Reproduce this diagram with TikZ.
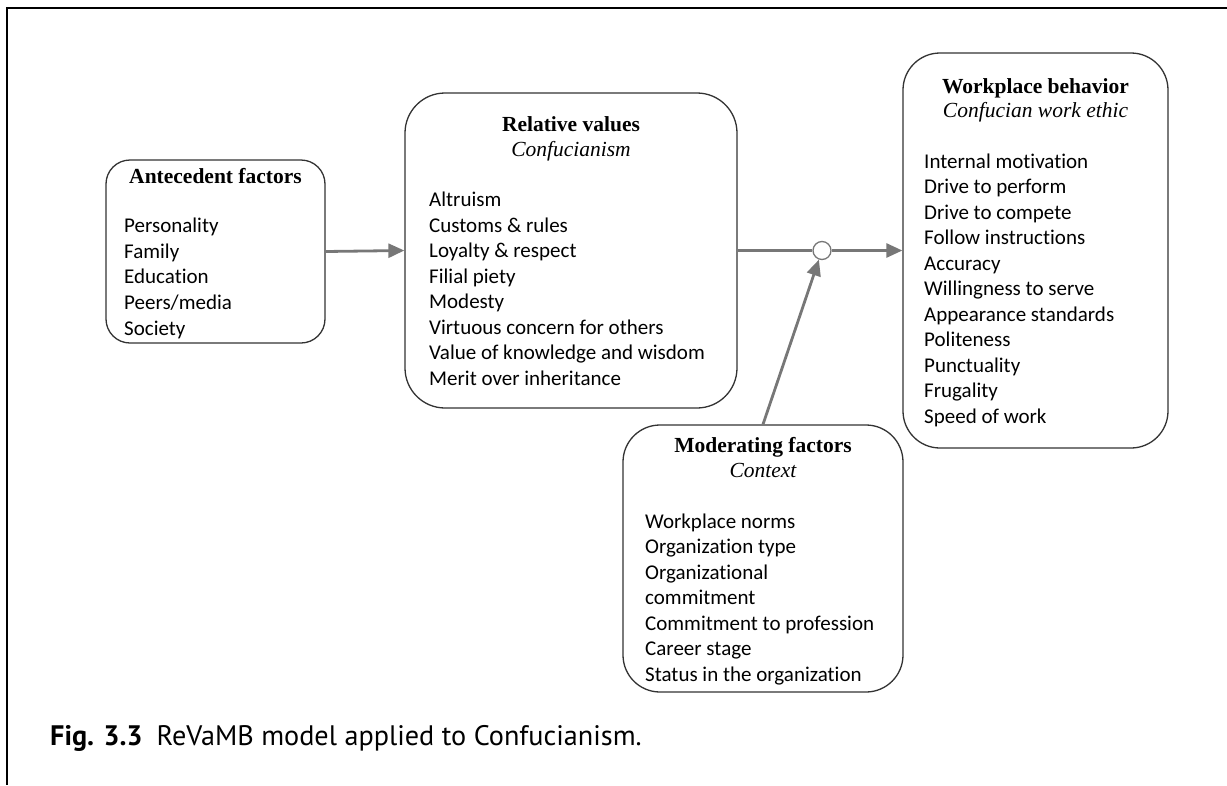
\documentclass[tikz,border=0pt]{standalone}
\usepackage{fontspec}
\setmainfont{Carlito}[RawFeature=-liga]
\newfontfamily\titlefont{Liberation Serif}
\newfontfamily\capfont{PT Sans}
\usetikzlibrary{arrows.meta}
\definecolor{boxc}{HTML}{333333}
\definecolor{arrc}{HTML}{777777}
\tikzset{
  box/.style={draw=boxc, line width=1.3pt, inner sep=0pt},
  ttl/.style={font=\titlefont\bfseries\fontsize{21.5}{24}\selectfont, anchor=base, inner sep=0pt},
  sub/.style={font=\titlefont\itshape\fontsize{21.5}{24}\selectfont, anchor=base, inner sep=0pt},
  item/.style={font=\fontsize{21}{25.5}\selectfont, anchor=base west, inner sep=0pt},
  conn/.style={draw=arrc, line width=2.8pt},
  arr/.style={conn, -{Triangle[length=16pt,width=14pt]}},
}
\begin{document}
\begin{tikzpicture}[x=1pt,y=-1pt]
\useasboundingbox (0,0) rectangle (1227,785);
% frame
\draw[line width=2pt] (1227,7.5) -- (7,7.5) -- (7,785);
% boxes
\node[box, rounded corners=24pt, minimum width=219pt, minimum height=183pt] (ant) at (215.5,251.5) {};
\node[box, rounded corners=40pt, minimum width=332pt, minimum height=315pt] (rel) at (571,250.5) {};
\node[box, rounded corners=37pt, minimum width=265pt, minimum height=395pt] (work) at (1035.5,250.5) {};
\node[box, rounded corners=37pt, minimum width=280pt, minimum height=267pt] (mod) at (763,558.5) {};
% titles
\node[ttl] (antT) at (215.5,183) {Antecedent factors};
\node[ttl] (relT) at (571,131) {Relative values};
\node[sub] (relS) at (571,156) {Confucianism};
\node[ttl] (workT) at (1035.5,93) {Workplace behavior};
\node[sub] (workS) at (1035.5,117.5) {Confucian work ethic};
\node[ttl] (modT) at (763,452) {Moderating factors};
\node[sub] (modS) at (763,477) {Context};
% items
\foreach \t [count=\i from 0] in {Personality,Family,Education,Peers/media,Society}
  \node[item] (antI\i) at (124,232.7+25.6*\i) {\t};
\foreach \t [count=\i from 0] in {Altruism,Customs \& rules,Loyalty \& respect,Filial piety,Modesty,Virtuous concern for others,Value of knowledge and wisdom,Merit over inheritance}
  \node[item] (relI\i) at (429,206.7+25.5*\i) {\t};
\foreach \t [count=\i from 0] in {Internal motivation,Drive to perform,Drive to compete,Follow instructions,Accuracy,Willingness to serve,Appearance standards,Politeness,Punctuality,Frugality,Speed of work}
  \node[item] (workI\i) at (924,168+25.5*\i) {\t};
\foreach \t [count=\i from 0] in {Workplace norms,Organization type,Organizational,commitment,Commitment to profession,Career stage,Status in the organization}
  \node[item] (modI\i) at (645,528+25.5*\i) {\t};
% junction
\node[circle, draw=arrc, line width=1.3pt, fill=white, minimum size=18pt, inner sep=0pt] (circ) at (822,250.5) {};
% connectors
\draw[arr] (ant.east) -- (rel.west);
\draw[conn] (rel.east) -- (circ.west);
\draw[arr] (circ.east) -- (work.west);
\draw[arr] (mod.north) -- (circ);
% caption
\node[font=\capfont\fontsize{28.2}{31}\selectfont, anchor=base west, inner sep=0pt] (cap) at (50,745) {\textbf{Fig. 3.3}\enspace ReVaMB model applied to Confucianism.};
\end{tikzpicture}
\end{document}
